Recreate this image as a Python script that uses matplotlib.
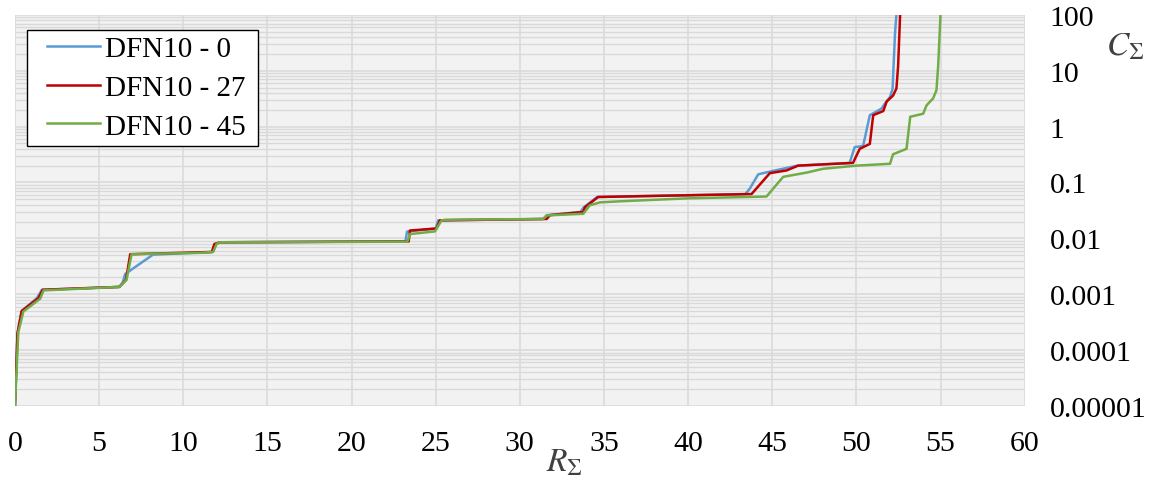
"""Cumulative C vs R curves for three DFN10 orientations."""
import matplotlib
matplotlib.use('Agg')
import matplotlib.pyplot as plt
from matplotlib.ticker import FixedLocator, FixedFormatter, LogLocator, NullFormatter
from matplotlib.legend_handler import HandlerLine2D

# DFN10 - 0
x_0 = [0, 0.15, 0.4, 1.3, 1.6, 6.2, 6.4, 6.55, 8.2, 11.7, 11.9, 12.2, 23.2, 23.3,
       25.0, 25.15, 31.4, 31.6, 33.6, 33.8, 34.6, 43.4, 43.67, 44.17, 45.0, 46.5,
       49.6, 49.9, 50.4, 50.6, 50.8, 51.5, 51.7, 52.0, 52.15, 52.3, 52.38]
c_0 = [1e-5, 2e-4, 5e-4, 8.5e-4, 1.2e-3, 1.35e-3, 1.6e-3, 2.3e-3, 5.1e-3, 5.7e-3,
       7.9e-3, 8.5e-3, 8.8e-3, 0.0132, 0.015, 0.021, 0.0222, 0.026, 0.0296, 0.036,
       0.055, 0.062, 0.078, 0.14, 0.16, 0.2, 0.224, 0.43, 0.45, 0.85, 1.6, 2.1, 2.6,
       3.4, 4.7, 49, 100]

# DFN10 - 27
x_27 = [0, 0.15, 0.4, 1.4, 1.65, 6.2, 6.6, 6.85, 11.7, 11.85, 12.2, 23.4, 23.47,
        25.05, 25.25, 31.6, 31.79, 33.77, 33.87, 34.66, 43.77, 44.86, 45.85, 46.54,
        49.8, 50.2, 50.8, 51.0, 51.6, 51.8, 52.18, 52.38, 52.48, 52.6]
c_27 = [1e-5, 2e-4, 5e-4, 8.5e-4, 1.2e-3, 1.35e-3, 1.8e-3, 5.2e-3, 5.7e-3, 7.9e-3,
        8.5e-3, 8.8e-3, 0.0138, 0.015, 0.021, 0.0222, 0.026, 0.0296, 0.036, 0.055,
        0.062, 0.147, 0.164, 0.2, 0.224, 0.40, 0.49, 1.6, 1.9, 2.8, 3.6, 4.8, 12, 100]

# DFN10 - 45
x_45 = [0, 0.2, 0.5, 1.5, 1.7, 6.2, 6.63, 6.93, 11.0, 11.78, 11.98, 12.18, 23.3,
        23.37, 23.45, 24.96, 25.35, 25.6, 31.39, 31.6, 33.77, 34.16, 34.76, 35.95,
        40, 44.66, 45.65, 47.03, 48.03, 50.0, 52.0, 52.18, 52.98, 53.2, 53.97,
        54.17, 54.56, 54.76, 54.86, 55.0]
c_45 = [1e-5, 2.1e-4, 4.9e-4, 8.3e-4, 1.17e-3, 1.35e-3, 1.8e-3, 5.2e-3, 5.5e-3,
        5.7e-3, 7.9e-3, 8.5e-3, 8.7e-3, 9.4e-3, 0.0119, 0.0133, 0.021, 0.0215,
        0.0222, 0.0257, 0.0275, 0.039, 0.044, 0.046, 0.052, 0.056, 0.126, 0.15,
        0.176, 0.2, 0.216, 0.32, 0.4, 1.5, 1.7, 2.4, 3.2, 4.5, 12, 100]

x_ticks = [0, 5, 10, 15, 20, 25, 30, 35, 40, 45, 50, 55, 60]
y_ticks = [1e-5, 1e-4, 1e-3, 1e-2, 1e-1, 1, 10, 100]
y_labels = ['0.00001', '0.0001', '0.001', '0.01', '0.1', '1', '10', '100']

plt.rcParams['font.family'] = ['Liberation Serif', 'DejaVu Serif']
plt.rcParams['mathtext.fontset'] = 'stix'

fig = plt.figure(figsize=(11.5, 4.81), dpi=100)
ax = fig.add_axes([0.013, 0.154, 0.878, 0.813])
ax.set_facecolor('#f2f2f2')

ax.plot(x_0, c_0, color='#5b9bd5', linewidth=1.8, label='DFN10 - 0')
ax.plot(x_27, c_27, color='#c00000', linewidth=1.8, label='DFN10 - 27')
ax.plot(x_45, c_45, color='#70ad47', linewidth=1.8, label='DFN10 - 45')

ax.set_yscale('log')
ax.set_xlim(0, 60)
ax.set_ylim(1e-5, 100)

ax.xaxis.set_major_locator(FixedLocator(x_ticks))
ax.yaxis.set_major_locator(FixedLocator(y_ticks))
ax.yaxis.set_major_formatter(FixedFormatter(y_labels))
ax.yaxis.set_minor_locator(LogLocator(base=10, subs=range(2, 10), numticks=20))
ax.yaxis.set_minor_formatter(NullFormatter())
ax.yaxis.tick_right()

ax.tick_params(axis='both', which='both', length=0, labelsize=21.5)
ax.tick_params(axis='x', pad=17)
ax.tick_params(axis='y', pad=18)

ax.grid(True, which='major', color='#d9d9d9', linewidth=1.1)
ax.grid(True, which='minor', axis='y', color='#d9d9d9', linewidth=1.0)
ax.set_axisbelow(True)
for s in ax.spines.values():
    s.set_visible(False)

# box from about x=27..258 px, y=31..145 px
leg = ax.legend(loc='upper left', bbox_to_anchor=(0.012, 0.962, 0.229, 0.0),
                mode='expand', borderaxespad=0,
                fontsize=21, fancybox=False, framealpha=1, edgecolor='black',
                handlelength=2.3, handletextpad=0.17, labelspacing=0.42,
                borderpad=0.21,
                handler_map={plt.Line2D: HandlerLine2D(xpad=0.48)})
leg.get_frame().set_linewidth(1.0)

fig.text(0.491, 0.037, r'$R_\Sigma$', fontsize=24, color='#404040',
         ha='center', va='center')
fig.text(0.978, 0.902, r'$C_\Sigma$', fontsize=24, color='#404040',
         ha='center', va='center')

plt.savefig('out.png', dpi=100)
plt.close()
